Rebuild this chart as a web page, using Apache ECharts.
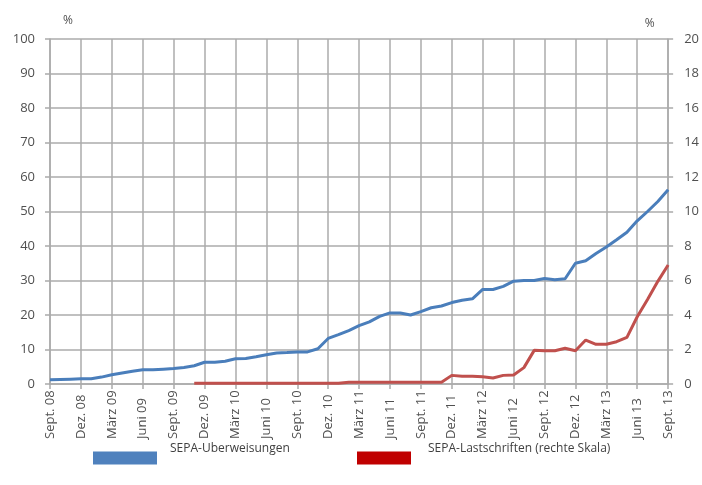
<!DOCTYPE html>
<html>
<head>
<meta charset="utf-8">
<script src="https://cdn.jsdelivr.net/npm/echarts@6/dist/echarts.min.js"></script>
<style>
html,body{margin:0;padding:0;background:#fff;}
#chart{width:702px;height:485px;}
</style>
</head>
<body>
<div id="chart"></div>
<script>
var months = ["Sept. 08","Okt. 08","Nov. 08","Dez. 08","Jan. 09","Feb. 09","März 09","Apr. 09","Mai 09","Juni 09","Juli 09","Aug. 09",
"Sept. 09","Okt. 09","Nov. 09","Dez. 09","Jan. 10","Feb. 10","März 10","Apr. 10","Mai 10","Juni 10","Juli 10","Aug. 10",
"Sept. 10","Okt. 10","Nov. 10","Dez. 10","Jan. 11","Feb. 11","März 11","Apr. 11","Mai 11","Juni 11","Juli 11","Aug. 11",
"Sept. 11","Okt. 11","Nov. 11","Dez. 11","Jan. 12","Feb. 12","März 12","Apr. 12","Mai 12","Juni 12","Juli 12","Aug. 12",
"Sept. 12","Okt. 12","Nov. 12","Dez. 12","Jan. 13","Feb. 13","März 13","Apr. 13","Mai 13","Juni 13","Juli 13","Aug. 13",
"Sept. 13"];

var sepaUeberweisungen = [1.2,1.3,1.4,1.5,1.5,2.0,2.7,3.2,3.7,4.1,4.1,4.3,
4.5,4.8,5.3,6.3,6.3,6.6,7.3,7.4,7.9,8.5,9.0,9.1,
9.3,9.3,10.2,13.2,14.3,15.5,16.9,18.0,19.6,20.6,20.6,20.0,
21.0,22.1,22.6,23.6,24.3,24.7,27.4,27.4,28.3,29.8,30.0,30.0,
30.6,30.2,30.5,35.0,35.7,37.8,39.7,41.8,44.0,47.3,50.0,52.9,
56.3];

var sepaLastschriften = [null,null,null,null,null,null,null,null,null,null,null,null,
null,null,0.05,0.05,0.05,0.05,0.05,0.05,0.05,0.05,0.05,0.05,
0.05,0.05,0.05,0.05,0.05,0.1,0.1,0.1,0.1,0.1,0.1,0.1,
0.1,0.1,0.1,0.5,0.45,0.45,0.42,0.35,0.5,0.52,0.95,1.95,
1.93,1.93,2.07,1.93,2.55,2.3,2.3,2.45,2.7,3.9,4.9,5.95,
6.9];

var seriesNames = ["SEPA-Uberweisungen", "SEPA-Lastschriften (rechte Skala)"];

var gridColor = '#ababab';
var textColor = '#505050';
var font = 'Open Sans';

function legendText(padLeft){
  return {
    formatter: function(n){ return '{a|' + n + '}\n{b| }'; },
    textStyle: {
      rich: {
        a: {fontFamily:font, fontSize:12, color:'#404040', lineHeight:14, padding:[0,0,0,padLeft]},
        b: {fontFamily:font, fontSize:12, lineHeight:18}
      }
    }
  };
}

var lg1 = legendText(8), lg2 = legendText(12);

var chart = echarts.init(document.getElementById('chart'), null, {renderer:'canvas'});
chart.setOption({
  animation:false,
  backgroundColor:'#ffffff',
  grid:{left:50, right:32, top:39, bottom:101, containLabel:false},
  legend:[
    {data:[{name:seriesNames[0], itemStyle:{color:'#4f81bd'}}], left:93, top:443, padding:0, icon:'rect', itemWidth:64, itemHeight:13,
     formatter:lg1.formatter, textStyle:lg1.textStyle},
    {data:[{name:seriesNames[1], itemStyle:{color:'#c00000'}}], left:357, top:443, padding:0, icon:'rect', itemWidth:54, itemHeight:13,
     formatter:lg2.formatter, textStyle:lg2.textStyle}
  ],
  xAxis:{
    type:'category', data:months, boundaryGap:false,
    axisLine:{show:true, lineStyle:{color:gridColor, width:1.5}},
    axisTick:{show:true, interval:2, length:5, lineStyle:{color:gridColor, width:1.5}},
    axisLabel:{interval:2, rotate:90, align:'left', verticalAlign:'middle', margin:55, fontFamily:font, fontSize:13, color:textColor},
    splitLine:{show:true, interval:2, lineStyle:{color:gridColor, width:1.5}}
  },
  yAxis:[
    {type:'value', min:0, max:100, interval:10, position:'left',
     name:'%', nameLocation:'end', nameGap:12,
     nameTextStyle:{fontFamily:font, fontSize:12, color:textColor, align:'center', padding:[0,0,0,36]},
     axisLine:{show:true, lineStyle:{color:gridColor, width:1.5}},
     axisTick:{show:true, length:5, lineStyle:{color:gridColor, width:1.5}},
     axisLabel:{margin:15, fontFamily:font, fontSize:13, color:textColor},
     splitLine:{show:true, lineStyle:{color:gridColor, width:1.5}}},
    {type:'value', min:0, max:20, interval:2, position:'right',
     name:'%', nameLocation:'end', nameGap:9,
     nameTextStyle:{fontFamily:font, fontSize:12, color:textColor, align:'center', padding:[0,37,0,0]},
     axisLine:{show:true, lineStyle:{color:gridColor, width:1.5}},
     axisTick:{show:true, length:5, lineStyle:{color:gridColor, width:1.5}},
     axisLabel:{margin:16, fontFamily:font, fontSize:13, color:textColor},
     splitLine:{show:false}}
  ],
  series:[
    {name:seriesNames[0], type:'line', yAxisIndex:0, data:sepaUeberweisungen, showSymbol:false, symbol:'none',
     lineStyle:{color:'#4a7ebb', width:3}, itemStyle:{color:'#4a7ebb'}},
    {name:seriesNames[1], type:'line', yAxisIndex:1, data:sepaLastschriften, showSymbol:false, symbol:'none',
     lineStyle:{color:'#c0504d', width:3}, itemStyle:{color:'#c0504d'}}
  ]
});
</script>
</body>
</html>
